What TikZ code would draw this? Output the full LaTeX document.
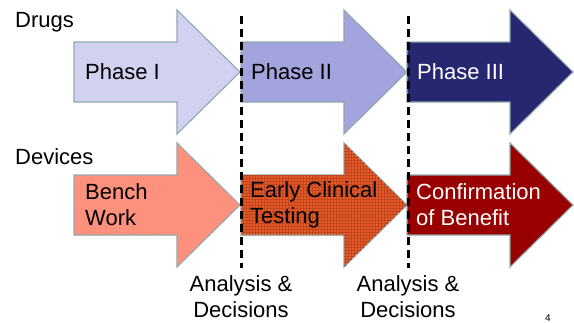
\documentclass[tikz,border=0pt]{standalone}
\usepackage{fontspec}
\setmainfont{Liberation Sans}
\usetikzlibrary{patterns}
\definecolor{edgegray}{HTML}{8FA9AE}
\definecolor{phaseone}{HTML}{D2D2F0}
\definecolor{phasetwo}{HTML}{A3A3DD}
\definecolor{phasethree}{HTML}{272771}
\definecolor{benchfill}{HTML}{FF8E7A}
\definecolor{benchdot}{HTML}{F5A090}
\definecolor{earlyfill}{HTML}{E85A2C}
\definecolor{earlygrid}{HTML}{C0461C}
\definecolor{benefitfill}{HTML}{990000}
% arrow: left x, centre y, style
\newcommand{\stagearrow}[3]{%
  \draw[#3] (#1,#2-30) -- ++(103,0) -- ++(0,-32) -- (#1+166,#2)
    -- (#1+103,#2+62) -- ++(0,-32) -- (#1,#2+30) -- cycle;}
\begin{document}
\begin{tikzpicture}[x=1pt,y=-1pt,
  stagebox/.style={draw=edgegray,line width=1.1pt},
  label/.style={anchor=west,align=left,inner sep=0pt,font=\fontsize{22}{26}\selectfont},
  gate/.style={black,line width=3pt,dash pattern=on 8pt off 5pt},
  note/.style={align=center,inner sep=0pt,font=\fontsize{22}{26}\selectfont}]
  \useasboundingbox (0,0) rectangle (574,322);
  % Drugs
  \stagearrow{74}{72}{stagebox,fill=phaseone}
  \stagearrow{241}{72}{stagebox,fill=phasetwo}
  \stagearrow{407}{72}{stagebox,fill=phasethree}
  % Devices
  \stagearrow{74}{205}{stagebox,fill=benchfill,postaction={pattern=crosshatch dots,pattern color=benchdot}}
  \stagearrow{241}{205}{stagebox,fill=earlyfill,postaction={pattern=grid,pattern color=earlygrid}}
  \stagearrow{407}{205}{stagebox,fill=benefitfill}
  % decision points
  \coordinate (g1top) at (241,16);
  \coordinate (g1bot) at (241,268);
  \coordinate (g2top) at (408,16);
  \coordinate (g2bot) at (408,268);
  \draw[gate] (g1top) -- (g1bot);
  \draw[gate] (g2top) -- (g2bot);
  \node[label] (drugs) at (15,22) {Drugs};
  \node[label] (devices) at (15,157) {Devices};
  \node[label] (p1) at (85,72) {Phase I};
  \node[label] (p2) at (251,72) {Phase II};
  \node[label,white] (p3) at (417,72) {Phase III};
  \node[label] (bench) at (85,205) {Bench\\Work};
  \node[label] (early) at (250,205) {Early Clinical\\Testing};
  \node[label,white] (benefit) at (416,205) {Confirmation\\of Benefit};
  \node[note] (ad1) at (241,297) {Analysis \&\\Decisions};
  \node[note] (ad2) at (408,297) {Analysis \&\\Decisions};
  \node[inner sep=0pt,font=\fontsize{10}{12}\selectfont] (pagenum) at (548,318) {4};
\end{tikzpicture}
\end{document}
